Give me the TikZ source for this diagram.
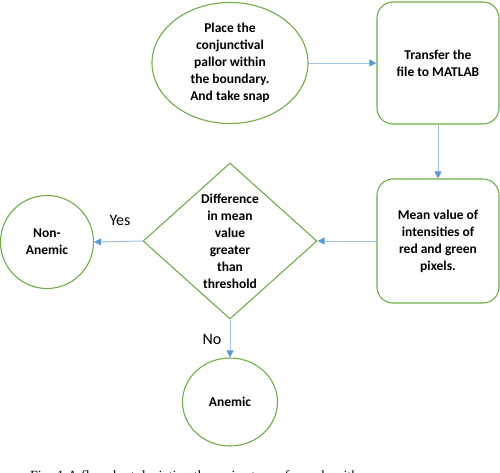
\documentclass[tikz,border=0pt]{standalone}
\usepackage{fontspec}
\setmainfont{Carlito}
\newfontfamily\capfont{Liberation Serif}
\usetikzlibrary{shapes.geometric,arrows.meta}
\definecolor{ogreen}{HTML}{70AD47}
\definecolor{oblue}{HTML}{5B9BD5}
\definecolor{lblue}{HTML}{9DC3E6}
\tikzset{
  shapebox/.style={draw=ogreen, line width=1.1pt, align=center, font=\bfseries\fontsize{13.5}{17}\selectfont, inner sep=0pt},
  flowarrow/.style={draw=lblue, line width=1pt, -{Triangle[length=7pt,width=7pt,fill=oblue,color=oblue]}},
  edgelabel/.style={font=\fontsize{16}{18}\selectfont, inner sep=0pt}
}
\begin{document}
\begin{tikzpicture}[x=1pt,y=-1pt]
\useasboundingbox (0,0) rectangle (500,472);
\clip (0,0) rectangle (500,472);
\node[shapebox, ellipse, minimum width=156pt, minimum height=121pt] (place) at (230,63)
  {Place the\\conjunctival\\pallor within\\the boundary.\\And take snap};
\node[shapebox, rectangle, rounded corners=16pt, minimum width=122pt, minimum height=122pt] (transfer) at (438,63)
  {Transfer the\\file to MATLAB};
\node[shapebox, rectangle, rounded corners=16pt, minimum width=122pt, minimum height=124pt] (mean) at (438,241)
  {Mean value of\\intensities of\\red and green\\pixels.};
\node[shapebox, diamond, minimum width=174pt, minimum height=156pt] (diff) at (230,241) {};
\node[font=\bfseries\fontsize{13.5}{17}\selectfont, align=center, inner sep=0pt] (difftext) at (230,241)
  {Difference\\in mean\\value\\greater\\than\\threshold};
\node[shapebox, circle, minimum size=93pt] (non) at (47,242) {Non-\\Anemic};
\node[shapebox, ellipse, minimum width=95pt, minimum height=88pt] (anemic) at (230,402) {Anemic};
\draw[flowarrow] (place.east) -- (transfer.west |- place.east);
\draw[flowarrow] (transfer.south) -- (mean.north);
\draw[flowarrow] (mean.west) -- (diff.east);
\draw[flowarrow] (diff.west) -- (non.east);
\draw[flowarrow] (diff.south) -- (anemic.north);
\node[edgelabel] (yes) at (120,220) {Yes};
\node[edgelabel] (no) at (212,339) {No};
\node[anchor=base west, inner sep=0pt, font=\capfont\fontsize{14}{16}\selectfont] (caption) at (30,480)
  {Fig. 1 A flowchart depicting the main steps of our algorithm};
\end{tikzpicture}
\end{document}
